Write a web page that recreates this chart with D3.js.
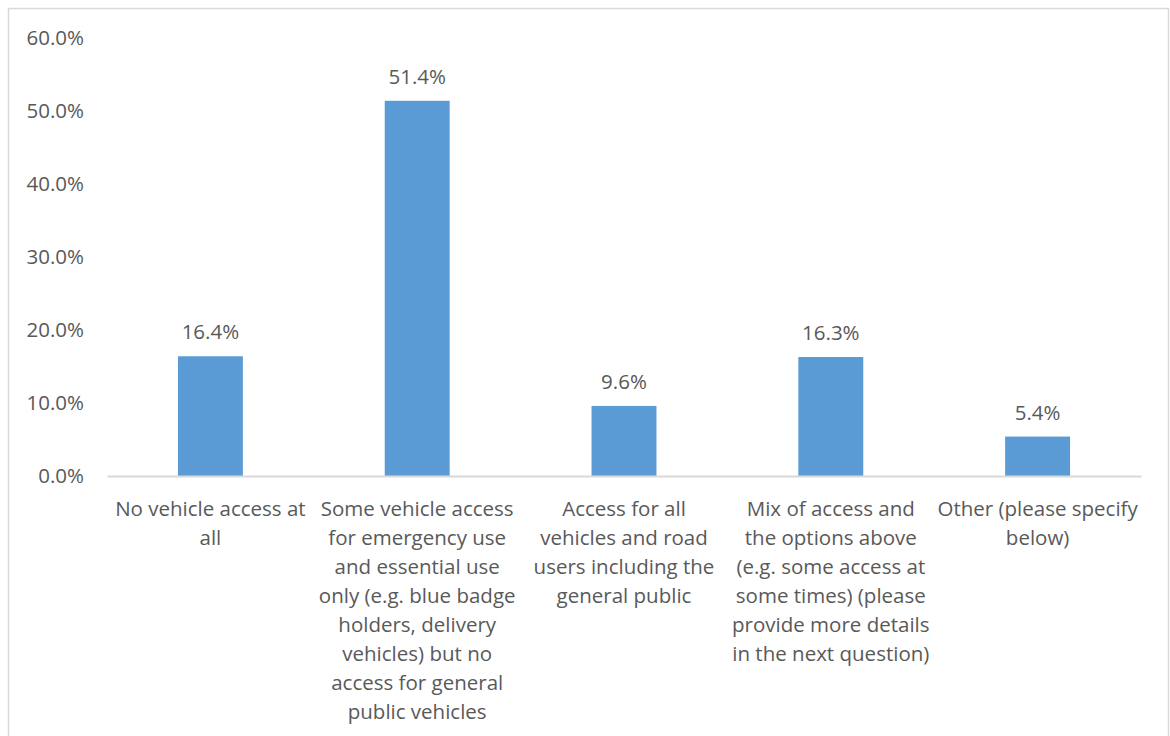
<!DOCTYPE html>
<html>
<head>
<meta charset="utf-8">
<script src="https://cdn.jsdelivr.net/npm/d3@7"></script>
<style>
  html, body { margin: 0; padding: 0; background: #fff; }
  svg { display: block; }
</style>
</head>
<body>
<svg id="chart" width="1170" height="736"></svg>
<script>
// Survey responses: preferred level of vehicle access
const categories = [
  "No vehicle access at all",
  "Some vehicle access for emergency use and essential use only (e.g. blue badge holders, delivery vehicles) but no access for general public vehicles",
  "Access for all vehicles and road users including the general public",
  "Mix of access and the options above (e.g. some access at some times) (please provide more details in the next question)",
  "Other (please specify below)"
];
// Wrapped lines for each category label
const categoryLines = [
  ["No vehicle access at", "all"],
  ["Some vehicle access", "for emergency use", "and essential use", "only (e.g. blue badge", "holders, delivery", "vehicles) but no", "access for general", "public vehicles"],
  ["Access for all", "vehicles and road", "users including the", "general public"],
  ["Mix of access and", "the options above", "(e.g. some access at", "some times) (please", "provide more details", "in the next question)"],
  ["Other (please specify", "below)"]
];
const shares = [16.4, 51.4, 9.6, 16.3, 5.4];
const yTicks = [0, 10, 20, 30, 40, 50, 60];

const svg = d3.select("#chart");
const font = "'Open Sans', 'Noto Sans', sans-serif";
const fontSize = 20.5;
const textColor = "#595959";
const axisColor = "#d9d9d9";
const barColor = "#5b9bd5";

// Chart frame
svg.append("rect")
  .attr("x", 8.5).attr("y", 8.5)
  .attr("width", 1160).attr("height", 760)
  .attr("fill", "#fff")
  .attr("stroke", axisColor)
  .attr("stroke-width", 1.5);

const plot = { left: 107, right: 1141, top: 38, bottom: 476 };

const x = d3.scaleBand()
  .domain(categories)
  .range([plot.left, plot.right])
  .paddingInner(0.686)
  .paddingOuter(0.343);

const y = d3.scaleLinear()
  .domain([0, 60])
  .range([plot.bottom, plot.top]);

// Y axis labels (no axis line, no gridlines)
const yAxis = d3.axisLeft(y)
  .tickValues(yTicks)
  .tickSize(0)
  .tickPadding(0)
  .tickFormat(d => d.toFixed(1) + "%");

const yG = svg.append("g")
  .attr("transform", `translate(${plot.left - 23},0)`)
  .call(yAxis);
yG.select(".domain").remove();
yG.selectAll("text")
  .attr("font-family", font)
  .attr("font-size", fontSize)
  .attr("fill", textColor);

// Bars
svg.append("g").selectAll("rect")
  .data(shares)
  .join("rect")
  .attr("x", (d, i) => x(categories[i]))
  .attr("y", d => y(d))
  .attr("width", x.bandwidth())
  .attr("height", d => y(0) - y(d))
  .attr("fill", barColor);

// Category axis baseline
const xAxis = d3.axisBottom(x).tickSize(0).tickFormat("");
const xG = svg.append("g")
  .attr("transform", `translate(0,${plot.bottom})`)
  .call(xAxis);
xG.select(".domain")
  .attr("stroke", axisColor)
  .attr("stroke-width", 2);

// Category labels
const labelG = svg.append("g")
  .attr("font-family", font)
  .attr("font-size", fontSize)
  .attr("fill", textColor)
  .attr("text-anchor", "middle");

categoryLines.forEach((lines, i) => {
  const cx = x(categories[i]) + x.bandwidth() / 2;
  const t = labelG.append("text")
    .attr("x", cx)
    .attr("y", plot.bottom + 39.5);
  lines.forEach((ln, j) => {
    t.append("tspan")
      .attr("x", cx)
      .attr("dy", j === 0 ? 0 : 29)
      .text(ln);
  });
});

// Value labels above bars
svg.append("g").selectAll("text")
  .data(shares)
  .join("text")
  .attr("x", (d, i) => x(categories[i]) + x.bandwidth() / 2)
  .attr("y", d => y(d) - 17)
  .attr("text-anchor", "middle")
  .attr("font-family", font)
  .attr("font-size", fontSize)
  .attr("fill", textColor)
  .text(d => d.toFixed(1) + "%");
</script>
</body>
</html>
